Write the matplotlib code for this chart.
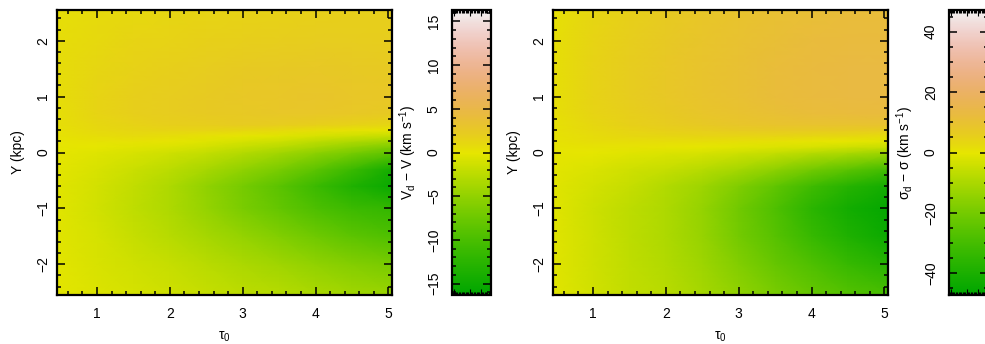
import colorsys
import numpy as np
import matplotlib
matplotlib.use("Agg")
from matplotlib import pyplot as plt
from matplotlib.colors import ListedColormap
from matplotlib.ticker import MultipleLocator

plt.rcParams['font.family'] = ['Liberation Sans', 'DejaVu Sans']
plt.rcParams['mathtext.fontset'] = 'custom'
plt.rcParams['mathtext.rm'] = 'Liberation Sans'
plt.rcParams['mathtext.it'] = 'Liberation Sans:italic'
plt.rcParams['font.size'] = 10

# grid nodes (tau0 along x, Y in kpc along y)
tau0 = [0.45, 1.0, 1.5, 2.0, 2.5, 3.0, 3.5, 4.0, 4.5, 5.05]
y_kpc = [-2.55, -2.0, -1.5, -1.0, -0.6, -0.3, 0.0, 0.1, 0.2, 0.3, 0.4, 0.5, 0.7, 1.0, 1.5, 2.0, 2.55]

# V_d - V (km/s), one row per y_kpc value
dv = [
    [-0.2, -0.6, -1.0, -1.4, -1.8, -2.3, -2.8, -3.4, -4.0, -4.5],
    [-0.2, -0.8, -1.3, -1.9, -2.6, -3.4, -4.2, -5.0, -5.9, -6.7],
    [-0.3, -1.0, -1.8, -2.7, -3.7, -4.8, -6.0, -7.3, -8.6, -9.6],
    [-0.3, -1.2, -2.2, -3.3, -4.8, -6.5, -8.1, -9.8, -11.0, -11.8],
    [-0.3, -1.1, -2.1, -3.3, -5.0, -6.8, -8.7, -11.2, -13.4, -15.3],
    [-0.2, -0.8, -1.6, -2.5, -3.6, -5.0, -6.6, -8.6, -11.2, -14.3],
    [-0.1, -0.4, -0.8, -1.3, -2.0, -2.9, -3.9, -5.2, -6.6, -8.2],
    [0.0, -0.1, -0.3, -0.6, -1.1, -1.8, -2.6, -3.6, -4.9, -6.3],
    [0.1, 0.2, 0.2, 0.0, -0.4, -0.9, -1.5, -2.3, -3.1, -4.0],
    [0.2, 0.6, 0.8, 0.6, 0.3, 0.0, -0.3, -0.8, -1.3, -1.8],
    [0.3, 0.9, 1.2, 1.4, 1.3, 1.1, 0.8, 0.4, 0.2, 0.0],
    [0.4, 1.1, 1.5, 1.8, 2.0, 2.2, 2.1, 1.9, 1.6, 1.2],
    [0.5, 1.3, 1.8, 2.1, 2.4, 2.5, 2.7, 2.8, 2.6, 2.4],
    [0.6, 1.3, 1.8, 2.1, 2.4, 2.6, 2.8, 3.0, 2.8, 2.6],
    [0.6, 1.2, 1.6, 1.9, 2.1, 2.3, 2.5, 2.6, 2.5, 2.4],
    [0.6, 1.0, 1.3, 1.5, 1.7, 1.9, 2.0, 2.1, 2.1, 2.0],
    [0.5, 0.8, 1.0, 1.2, 1.3, 1.5, 1.6, 1.7, 1.8, 1.8],
]

# sigma_d - sigma (km/s), one row per y_kpc value
dsig = [
    [-1.0, -3.5, -6.0, -7.5, -11.0, -14.5, -19.0, -23.0, -26.5, -29.0],
    [-1.0, -3.8, -6.5, -8.5, -12.5, -17.5, -23.0, -28.0, -33.0, -37.0],
    [-1.0, -4.0, -7.0, -9.5, -13.5, -20.0, -26.0, -33.0, -39.0, -44.0],
    [-1.0, -4.2, -7.0, -9.5, -14.0, -21.0, -28.0, -36.0, -42.0, -46.0],
    [-0.8, -3.2, -5.5, -8.5, -12.5, -18.0, -24.0, -31.0, -37.0, -42.0],
    [-0.5, -2.0, -3.8, -5.5, -8.0, -11.0, -15.0, -20.0, -25.0, -30.0],
    [0.0, -0.3, -0.8, -1.5, -2.5, -3.8, -5.5, -7.5, -9.5, -12.0],
    [0.3, 0.6, 0.5, 0.2, -0.3, -0.8, -1.5, -2.5, -3.8, -5.0],
    [0.5, 1.5, 1.8, 1.7, 1.5, 1.2, 0.8, 0.3, -0.2, -1.0],
    [0.7, 2.2, 3.0, 3.5, 3.8, 4.0, 3.8, 3.5, 3.0, 2.0],
    [0.9, 2.8, 4.0, 5.0, 5.8, 6.5, 6.8, 6.8, 6.5, 6.0],
    [1.0, 3.3, 4.8, 6.0, 7.2, 8.2, 9.0, 9.5, 9.5, 9.3],
    [1.2, 3.8, 5.5, 7.0, 8.3, 9.5, 10.5, 11.5, 12.0, 12.2],
    [1.3, 4.2, 6.0, 7.5, 9.0, 10.3, 11.5, 12.5, 13.0, 13.0],
    [1.3, 4.2, 6.0, 7.5, 9.0, 10.3, 11.5, 12.5, 13.0, 13.0],
    [1.2, 4.0, 5.7, 7.2, 8.5, 9.8, 11.0, 12.0, 12.5, 12.5],
    [1.0, 3.5, 5.0, 6.5, 7.8, 9.0, 10.0, 11.0, 11.5, 11.5],
]

dv_lim = 16.3
dsig_lim = 47.2


def terrain_colors(n):
    # same recipe as R's terrain.colors()
    k = n // 2
    cols = []
    for i in range(k):
        t = i / (k - 1)
        cols.append(colorsys.hsv_to_rgb(1/3 - t/6, 1.0, 0.65 + 0.25*t))
    for i in range(1, n - k + 1):
        t = i / (n - k)
        cols.append(colorsys.hsv_to_rgb(1/6 - t/6, 1.0 - t, 0.9 + 0.05*t))
    return ListedColormap(cols)


cmap = terrain_colors(256)

fig = plt.figure(figsize=(9.85, 3.44), dpi=100)
W, H = 985, 344


def px_axes(x0, y0, x1, y1):
    return fig.add_axes([x0/W, 1 - y1/H, (x1 - x0)/W, (y1 - y0)/H])


def panel(ax, cax, z, lim, major, minor, clabel):
    mesh = ax.pcolormesh(tau0, y_kpc, np.array(z), shading='gouraud',
                         cmap=cmap, vmin=-lim, vmax=lim)
    ax.set_xlim(0.45, 5.05)
    ax.set_ylim(-2.55, 2.55)
    ax.xaxis.set_major_locator(MultipleLocator(1))
    ax.xaxis.set_minor_locator(MultipleLocator(0.2))
    ax.yaxis.set_major_locator(MultipleLocator(1))
    ax.yaxis.set_minor_locator(MultipleLocator(0.2))
    ax.tick_params(which='both', direction='in', top=True, right=True, width=1.1)
    ax.tick_params(which='major', length=6)
    ax.tick_params(which='minor', length=3)
    ax.tick_params(axis='x', pad=9)
    ax.tick_params(axis='y', pad=5, labelrotation=90)
    for lab in ax.get_yticklabels():
        lab.set_va('center')
    for s in ax.spines.values():
        s.set_linewidth(1.6)
    ax.set_xlabel('τ$_0$', labelpad=6)
    ax.set_ylabel('Y (kpc)', labelpad=8)

    cb = fig.colorbar(mesh, cax=cax)
    cb.outline.set_linewidth(1.6)
    cb.set_ticks(np.arange(-40, 41, major))
    cax.set_ylim(-lim, lim)
    cax.yaxis.set_minor_locator(MultipleLocator(minor))
    cax.yaxis.set_ticks_position('both')
    cax.tick_params(axis='y', which='both', direction='in', left=True, right=True,
                    labelleft=True, labelright=False, labelrotation=90, pad=8, width=1.1)
    cax.tick_params(axis='y', which='major', length=6)
    cax.tick_params(axis='y', which='minor', length=3)
    for lab in cax.get_yticklabels():
        lab.set_va('center')
    cax.set_xlim(0, 1)
    cax.set_xticks([0.06, 0.46, 0.74])
    cax.xaxis.set_minor_locator(MultipleLocator(0.035))
    cax.tick_params(axis='x', which='both', direction='in', top=True, bottom=True,
                    labelbottom=False, labeltop=False, width=0.8)
    cax.tick_params(axis='x', which='major', length=4)
    cax.tick_params(axis='x', which='minor', length=2)
    cax.yaxis.set_label_position('left')
    cax.set_ylabel(clabel, labelpad=6)


ax1 = px_axes(57, 10, 392, 295)
cax1 = px_axes(452, 10, 491, 295)
ax2 = px_axes(553, 10, 888, 295)
cax2 = px_axes(949, 10, 988, 295)

panel(ax1, cax1, dv, dv_lim, 5, 1, 'V$_\\mathregular{d}$ − V (km s$^{-1}$)')
panel(ax2, cax2, dsig, dsig_lim, 20, 5, 'σ$_\\mathregular{d}$ − σ (km s$^{-1}$)')

fig.savefig('out.png', dpi=100)
